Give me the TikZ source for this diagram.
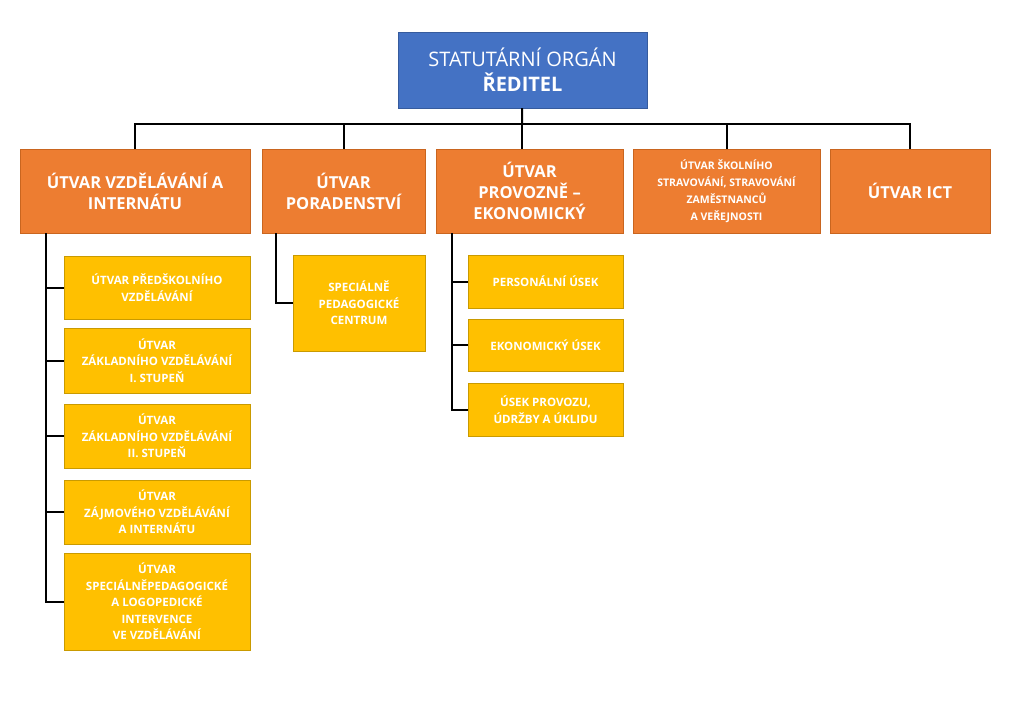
\documentclass[tikz,border=0pt]{standalone}
\usepackage{fontspec}
\setmainfont{Open Sans}
\definecolor{headblue}{HTML}{4472C4}
\definecolor{unitorange}{HTML}{ED7D31}
\definecolor{unitedge}{HTML}{C9651F}
\definecolor{subyellow}{HTML}{FFC000}
\definecolor{subedge}{HTML}{C99A00}
\tikzset{
    unitbox/.style={draw=unitedge, fill=unitorange, text=white, align=center, font=\bfseries\fontsize{16.5}{21}\selectfont, inner sep=2pt},
    subbox/.style={draw=subedge, fill=subyellow, text=white, align=center, font=\bfseries\fontsize{11.5}{16.5}\selectfont, inner sep=2pt, minimum width=186pt},
    link/.style={line width=2pt, black}
}
\begin{document}
\begin{tikzpicture}[x=1pt, y=-1pt]
        \useasboundingbox[fill=white] (0,0) rectangle (1024,706);
        % Head
        \node[fill=headblue, draw=headblue!80!black, text=white, align=center, minimum width=249pt, minimum height=76pt, font=\fontsize{20}{25}\selectfont] (head) at (522.5,70) {STATUTÁRNÍ ORGÁN\\ \textbf{ŘEDITEL}};
        \coordinate (bus) at (522,124);

        % Units
        \node[unitbox, minimum width=230pt, minimum height=84pt] (unit1) at (135,191) {ÚTVAR VZDĚLÁVÁNÍ A\\INTERNÁTU};
        \node[unitbox, minimum width=163pt, minimum height=84pt] (unit2) at (343.5,191) {ÚTVAR\\PORADENSTVÍ};
        \node[unitbox, minimum width=187pt, minimum height=84pt] (unit3) at (529.5,191) {ÚTVAR\\PROVOZNĚ --\\EKONOMICKÝ};
        \node[unitbox, minimum width=187pt, minimum height=84pt, font=\bfseries\fontsize{10.5}{17}\selectfont] (unit4) at (726.5,191) {ÚTVAR ŠKOLNÍHO\\STRAVOVÁNÍ, STRAVOVÁNÍ\\ZAMĚSTNANCŮ\\A VEŘEJNOSTI};
        \node[unitbox, minimum width=160pt, minimum height=84pt] (unit5) at (910,191) {ÚTVAR ICT};

        % Sub-units
        \node[subbox, minimum height=63pt] (edu1) at (157,287.5) {ÚTVAR PŘEDŠKOLNÍHO\\VZDĚLÁVÁNÍ};
        \node[subbox, minimum height=65pt] (edu2) at (157,360.5) {ÚTVAR\\ZÁKLADNÍHO VZDĚLÁVÁNÍ\\I. STUPEŇ};
        \node[subbox, minimum height=64pt] (edu3) at (157,436) {ÚTVAR\\ZÁKLADNÍHO VZDĚLÁVÁNÍ\\II. STUPEŇ};
        \node[subbox, minimum height=64pt] (edu4) at (157,512) {ÚTVAR\\ZÁJMOVÉHO VZDĚLÁVÁNÍ\\A INTERNÁTU};
        \node[subbox, minimum height=97pt] (edu5) at (157,601.5) {ÚTVAR\\SPECIÁLNĚPEDAGOGICKÉ\\A LOGOPEDICKÉ\\INTERVENCE\\VE VZDĚLÁVÁNÍ};
        \node[subbox, minimum width=132pt, minimum height=96pt] (spc) at (359,303) {SPECIÁLNĚ\\PEDAGOGICKÉ\\CENTRUM};
        \node[subbox, minimum width=155pt, minimum height=53pt] (eko1) at (545.5,281.5) {PERSONÁLNÍ ÚSEK};
        \node[subbox, minimum width=155pt, minimum height=52pt] (eko2) at (545.5,345) {EKONOMICKÝ ÚSEK};
        \node[subbox, minimum width=155pt, minimum height=53pt] (eko3) at (545.5,409.5) {ÚSEK PROVOZU,\\ÚDRŽBY A ÚKLIDU};

        \coordinate (trunk1) at (46,233);
        \coordinate (trunk2) at (276,233);
        \coordinate (trunk3) at (452,233);

        % Lines
        \draw[link] (head) -- (bus);
        \draw[link] (unit1.north) -- (unit1.north |- bus) -- (unit5.north |- bus) -- (unit5.north);
        \draw[link] (unit2.north) -- (unit2.north |- bus);
        \draw[link] (unit3.north -| bus) -- (bus);
        \draw[link] (unit4.north) -- (unit4.north |- bus);
        \foreach \n in {edu1,edu2,edu3,edu4,edu5}
            \draw[link] (trunk1) |- (\n.west);
        \draw[link] (trunk2) |- (spc.west);
        \foreach \n in {eko1,eko2,eko3}
            \draw[link] (trunk3) |- (\n.west);
    \end{tikzpicture}
\end{document}
